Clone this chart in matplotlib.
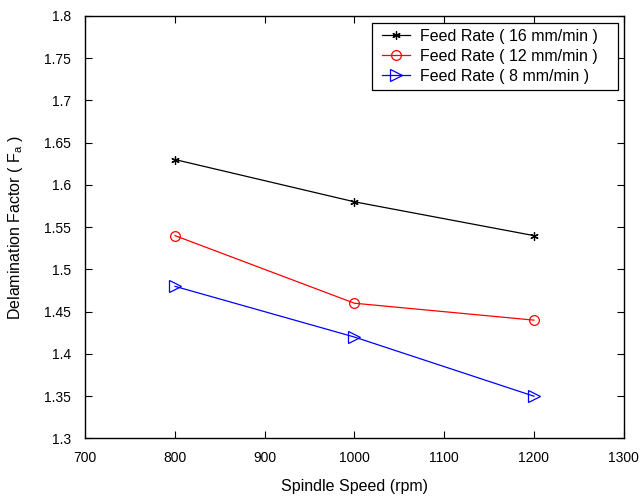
import matplotlib.pyplot as plt
from matplotlib.lines import Line2D
from matplotlib.legend_handler import HandlerLine2D

spindle = [800, 1000, 1200]
feed16 = [1.63, 1.58, 1.54]
feed12 = [1.54, 1.46, 1.44]
feed8 = [1.48, 1.42, 1.35]

plt.rcParams['font.family'] = ['Liberation Sans', 'DejaVu Sans']
plt.rcParams['mathtext.fontset'] = 'custom'
plt.rcParams['mathtext.rm'] = 'Liberation Sans'
plt.rcParams['mathtext.it'] = 'Liberation Sans'

fig = plt.figure(figsize=(6.41, 4.96), dpi=100)
ax = fig.add_axes([0.133, 0.116, 0.840, 0.852])

ax.plot(spindle, feed16, color='k', marker=(6, 2, 0), markersize=6, lw=0.9, mew=0.9,
        label='Feed Rate ( 16 mm/min )')
ax.plot(spindle, feed12, color='r', marker='o', markersize=7, lw=0.9, mfc='none', mew=0.9,
        label='Feed Rate ( 12 mm/min )')
ax.plot(spindle, feed8, color='b', marker='>', markersize=8, lw=0.9, mfc='none', mew=0.9,
        label='Feed Rate ( 8 mm/min )')

ax.set_xlim(700, 1300)
ax.set_ylim(1.3, 1.8)
ax.set_xticks(range(700, 1301, 100))
ax.set_yticks([1.3, 1.35, 1.4, 1.45, 1.5, 1.55, 1.6, 1.65, 1.7, 1.75, 1.8])
ax.set_yticklabels(['1.3', '1.35', '1.4', '1.45', '1.5', '1.55', '1.6', '1.65', '1.7', '1.75', '1.8'])
ax.tick_params(direction='in', top=True, right=True, labelsize=10, length=5)
ax.tick_params(axis='x', pad=9)
ax.tick_params(axis='y', pad=10)
for s in ax.spines.values():
    s.set_linewidth(1.0)

ax.set_xlabel('Spindle Speed (rpm)', fontsize=11.5)
ax.set_ylabel('Delamination Factor ( F$_a$ )', fontsize=11.5)
ax.xaxis.set_label_coords(0.5, -0.095)
ax.yaxis.set_label_coords(-0.112, 0.5)

leg = ax.legend(loc='upper left', bbox_to_anchor=(0.533, 0.0, 0.457, 0.984), mode='expand',
                borderaxespad=0, fontsize=11.5, fancybox=False, framealpha=1, edgecolor='k',
                handlelength=2.0, handletextpad=0.62, labelspacing=0.32, borderpad=0.38,
                handler_map={Line2D: HandlerLine2D(xpad=0.2)})
leg.get_frame().set_linewidth(0.9)

fig.savefig('out.png', dpi=100)
